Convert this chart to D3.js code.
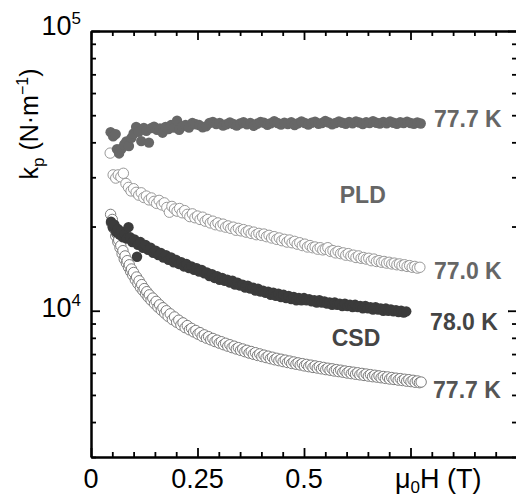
<!DOCTYPE html>
<html>
<head>
<meta charset="utf-8">
<script src="https://cdn.jsdelivr.net/npm/d3@7"></script>
<style>
  body { margin: 0; background: #fff; }
  svg text { font-family: "Liberation Sans", Arial, Helvetica, sans-serif; }
</style>
</head>
<body>
<svg id="chart"></svg>
<script>
// field (T), k_p (N/m)
const pld777 = [[0.046, 43500], [0.052, 42000], [0.058, 42800], [0.061, 37800], [0.066, 36500], [0.072, 38000], [0.078, 39300], [0.083, 40300], [0.089, 38800], [0.095, 41500], [0.100, 43000], [0.106, 45400], [0.112, 43600], [0.118, 40400], [0.124, 45000], [0.130, 44000], [0.136, 39900], [0.142, 45000], [0.148, 45500], [0.155, 44300], [0.162, 44800], [0.168, 43300], [0.175, 45400], [0.182, 44600], [0.188, 46100], [0.195, 45200], [0.202, 47800], [0.207, 44300], [0.214, 45600], [0.222, 46100], [0.230, 45200], [0.238, 46900], [0.246, 46400], [0.254, 46100], [0.262, 45300], [0.270, 45600], [0.278, 46900], [0.286, 47300], [0.294, 46500], [0.302, 46900], [0.310, 45900], [0.318, 46400], [0.326, 47100], [0.334, 46500], [0.342, 45900], [0.350, 46700], [0.358, 47200], [0.366, 46400], [0.374, 46900], [0.382, 45800], [0.390, 46600], [0.398, 47300], [0.406, 47000], [0.414, 46200], [0.422, 46800], [0.430, 47600], [0.438, 46900], [0.446, 46300], [0.454, 47000], [0.462, 46500], [0.470, 47200], [0.478, 46100], [0.486, 46800], [0.494, 47500], [0.502, 46900], [0.510, 46300], [0.518, 47000], [0.526, 47400], [0.534, 46600], [0.542, 46900], [0.550, 47700], [0.558, 47100], [0.566, 46400], [0.574, 46900], [0.582, 47500], [0.590, 47000], [0.598, 46600], [0.606, 47300], [0.614, 46800], [0.622, 47500], [0.630, 47100], [0.638, 46500], [0.646, 47200], [0.654, 46900], [0.662, 47600], [0.670, 47000], [0.678, 46700], [0.686, 47300], [0.694, 46800], [0.702, 47500], [0.710, 47000], [0.718, 46600], [0.726, 47200], [0.734, 46900], [0.742, 47400], [0.750, 46900], [0.758, 46600], [0.766, 47100], [0.774, 46700]];

const pld770 = [[0.045, 36600], [0.052, 30600], [0.058, 29800], [0.064, 30600], [0.070, 30100], [0.076, 31000], [0.082, 28500], [0.088, 27600], [0.094, 26800], [0.100, 27300], [0.106, 26500], [0.112, 25900], [0.118, 26400], [0.124, 25400], [0.130, 25700], [0.136, 24900], [0.142, 25300], [0.148, 24600], [0.154, 24200], [0.160, 24800], [0.166, 23900], [0.172, 24300], [0.178, 23400], [0.184, 22500], [0.190, 23600], [0.196, 23100], [0.202, 22700], [0.208, 23200], [0.214, 22400], [0.220, 22800], [0.226, 22100], [0.232, 21700], [0.238, 22200], [0.244, 21500], [0.250, 21800], [0.256, 21200], [0.262, 21600], [0.268, 20900], [0.274, 21200], [0.280, 20600], [0.286, 20900], [0.292, 20300], [0.298, 20600], [0.304, 20100], [0.310, 20400], [0.316, 19900], [0.322, 20100], [0.328, 19700], [0.334, 19900], [0.340, 19400], [0.346, 19700], [0.352, 19300], [0.358, 19500], [0.364, 19100], [0.370, 19300], [0.376, 18900], [0.382, 19100], [0.388, 18700], [0.394, 18900], [0.400, 18600], [0.406, 18800], [0.412, 18400], [0.418, 18600], [0.424, 18200], [0.430, 18400], [0.436, 18000], [0.442, 18200], [0.448, 17800], [0.454, 18000], [0.460, 17600], [0.466, 17900], [0.472, 17500], [0.478, 17700], [0.484, 17300], [0.490, 17500], [0.496, 17100], [0.502, 17300], [0.508, 16900], [0.514, 17100], [0.520, 16800], [0.526, 16900], [0.532, 16600], [0.538, 16800], [0.544, 16500], [0.550, 16600], [0.556, 16800], [0.562, 16300], [0.568, 16400], [0.574, 16100], [0.580, 16300], [0.586, 16000], [0.592, 16100], [0.598, 15800], [0.604, 16000], [0.610, 15700], [0.616, 15800], [0.622, 15500], [0.628, 15700], [0.634, 15400], [0.640, 15500], [0.646, 15300], [0.652, 15400], [0.658, 15100], [0.664, 15300], [0.670, 15000], [0.676, 15100], [0.682, 14900], [0.688, 15000], [0.694, 14800], [0.700, 14900], [0.706, 14700], [0.712, 14800], [0.718, 14600], [0.724, 14700], [0.730, 14500], [0.736, 14600], [0.742, 14400], [0.748, 14500], [0.754, 14300], [0.760, 14400], [0.766, 14200], [0.772, 14300]];

const csd780 = [[0.047, 20800], [0.051, 19900], [0.055, 20300], [0.059, 19100], [0.063, 19600], [0.067, 18700], [0.071, 19200], [0.075, 18300], [0.079, 18800], [0.084, 18100], [0.088, 19900], [0.092, 18300], [0.097, 17600], [0.102, 18000], [0.108, 15600], [0.110, 17200], [0.116, 17600], [0.122, 16800], [0.128, 17200], [0.134, 16500], [0.140, 16800], [0.146, 16100], [0.152, 16400], [0.158, 15800], [0.164, 16100], [0.170, 15500], [0.176, 15800], [0.182, 15200], [0.188, 15500], [0.194, 14900], [0.200, 15200], [0.206, 14700], [0.212, 14900], [0.218, 14400], [0.224, 14700], [0.230, 14200], [0.236, 14400], [0.242, 14000], [0.248, 14200], [0.254, 13800], [0.260, 14000], [0.266, 13600], [0.272, 13700], [0.278, 13300], [0.284, 13500], [0.290, 13100], [0.296, 13300], [0.302, 12900], [0.308, 13100], [0.314, 12800], [0.320, 12900], [0.326, 12600], [0.332, 12800], [0.338, 12400], [0.344, 12600], [0.350, 12300], [0.356, 12400], [0.362, 12100], [0.368, 12300], [0.374, 12000], [0.380, 12100], [0.386, 11800], [0.392, 12000], [0.398, 11700], [0.404, 11800], [0.410, 11600], [0.416, 11700], [0.422, 11400], [0.428, 11600], [0.434, 11300], [0.440, 11500], [0.446, 11200], [0.452, 11400], [0.458, 11100], [0.464, 11300], [0.470, 11000], [0.476, 11200], [0.482, 10900], [0.488, 11100], [0.494, 10900], [0.500, 11100], [0.506, 10900], [0.512, 11000], [0.518, 10800], [0.524, 10900], [0.530, 10700], [0.536, 10900], [0.542, 10700], [0.548, 10800], [0.554, 10600], [0.560, 10700], [0.566, 10500], [0.572, 10700], [0.578, 10500], [0.584, 10600], [0.590, 10400], [0.596, 10600], [0.602, 10400], [0.608, 10500], [0.614, 10300], [0.620, 10500], [0.626, 10300], [0.632, 10400], [0.638, 10200], [0.644, 10400], [0.650, 10200], [0.656, 10300], [0.662, 10100], [0.668, 10300], [0.674, 10100], [0.680, 10200], [0.686, 10000], [0.692, 10200], [0.698, 10000], [0.704, 10100], [0.710, 9950], [0.716, 10050], [0.722, 9900], [0.728, 10000], [0.734, 9850], [0.740, 9950]];

const csd777 = [[0.046, 22100], [0.048, 20600], [0.050, 21200], [0.053, 19700], [0.055, 19900], [0.058, 18500], [0.060, 18900], [0.063, 17600], [0.065, 17900], [0.068, 16800], [0.070, 17100], [0.073, 16000], [0.075, 16400], [0.078, 15300], [0.080, 15700], [0.083, 14800], [0.085, 15100], [0.088, 14300], [0.090, 14600], [0.093, 13800], [0.095, 14100], [0.098, 13400], [0.100, 13700], [0.104, 12900], [0.107, 13200], [0.110, 12500], [0.113, 12800], [0.116, 12100], [0.119, 12400], [0.122, 11800], [0.125, 12000], [0.128, 11500], [0.131, 11700], [0.134, 11200], [0.137, 11400], [0.141, 10900], [0.145, 11100], [0.149, 10600], [0.153, 10800], [0.157, 10300], [0.161, 10500], [0.165, 10050], [0.169, 10250], [0.173, 9800], [0.177, 10000], [0.181, 9550], [0.186, 9750], [0.191, 9300], [0.196, 9500], [0.201, 9100], [0.206, 9250], [0.211, 8900], [0.216, 9050], [0.221, 8700], [0.226, 8850], [0.231, 8550], [0.236, 8650], [0.241, 8400], [0.246, 8500], [0.251, 8250], [0.256, 8350], [0.261, 8100], [0.266, 8200], [0.271, 7980], [0.276, 8080], [0.281, 7870], [0.286, 7960], [0.291, 7760], [0.296, 7850], [0.301, 7660], [0.306, 7750], [0.311, 7560], [0.316, 7650], [0.321, 7470], [0.326, 7560], [0.331, 7380], [0.336, 7470], [0.341, 7300], [0.346, 7380], [0.351, 7220], [0.356, 7300], [0.361, 7140], [0.366, 7220], [0.371, 7060], [0.376, 7150], [0.381, 6990], [0.386, 7080], [0.391, 6920], [0.396, 7010], [0.401, 6860], [0.406, 6940], [0.411, 6800], [0.416, 6880], [0.421, 6740], [0.426, 6820], [0.431, 6680], [0.436, 6760], [0.441, 6630], [0.446, 6710], [0.451, 6580], [0.456, 6660], [0.461, 6530], [0.466, 6610], [0.471, 6480], [0.476, 6560], [0.481, 6440], [0.486, 6510], [0.491, 6400], [0.496, 6470], [0.501, 6350], [0.506, 6430], [0.511, 6310], [0.516, 6390], [0.521, 6270], [0.526, 6350], [0.531, 6240], [0.536, 6310], [0.541, 6200], [0.546, 6270], [0.551, 6160], [0.556, 6230], [0.561, 6130], [0.566, 6200], [0.571, 6090], [0.576, 6160], [0.581, 6060], [0.586, 6130], [0.591, 6030], [0.596, 6090], [0.601, 5990], [0.606, 6060], [0.611, 5960], [0.616, 6030], [0.621, 5930], [0.626, 6000], [0.631, 5900], [0.636, 5970], [0.641, 5870], [0.646, 5940], [0.651, 5840], [0.656, 5910], [0.661, 5810], [0.666, 5880], [0.671, 5790], [0.676, 5850], [0.681, 5760], [0.686, 5820], [0.691, 5730], [0.696, 5800], [0.701, 5700], [0.706, 5770], [0.711, 5680], [0.716, 5740], [0.721, 5650], [0.726, 5720], [0.731, 5630], [0.736, 5690], [0.741, 5600], [0.746, 5670], [0.751, 5580], [0.756, 5640], [0.761, 5550], [0.766, 5610], [0.771, 5530], [0.775, 5560]];

const xMajorTicks = [0, 0.25, 0.5, 0.75, 1];
const xMinorTicks = [0.05, 0.1, 0.15, 0.2, 0.3, 0.35, 0.4, 0.45, 0.55, 0.6, 0.65, 0.7, 0.8, 0.85, 0.9, 0.95];
const xTickLabels = ['0', '0.25', '0.5'];
const yMajorTicks = [1e4, 1e5];
const yMinorTicks = [3000, 4000, 5000, 6000, 7000, 8000, 9000, 20000, 30000, 40000, 50000, 60000, 70000, 80000, 90000];
const yTickExponents = ['4', '5'];

// series labels, anchored in data units (x, k_p at baseline)
const seriesLabels = [
    { text: '77.7 K', x: 0.805, y: 45400, anchor: 'start', color: '#666' },
    { text: 'PLD', x: 0.638, y: 24300, anchor: 'middle', color: '#666' },
    { text: '77.0 K', x: 0.805, y: 13000, anchor: 'start', color: '#666' },
    { text: '78.0 K', x: 0.796, y: 8550, anchor: 'start', color: '#444' },
    { text: 'CSD', x: 0.622, y: 7500, anchor: 'middle', color: '#444' },
    { text: '77.7 K', x: 0.803, y: 4890, anchor: 'start', color: '#555' }
];

const width = 516, height = 497;
const margin = { top: 31, left: 91 };
const plotW = 426, plotH = 426;

const svg = d3.select('#chart')
    .attr('width', width)
    .attr('height', height);

const chart = svg.append('g')
    .attr('transform', `translate(${margin.left},${margin.top})`);

const xScale = d3.scaleLinear().domain([0, 1]).range([0, plotW]);
const yScale = d3.scaleLog().domain([3000, 100000]).range([plotH, 0]);

// series, back to front
const series = [
    { data: csd777, fill: '#fff', stroke: '#7e7e7e', sw: 1 },
    { data: pld770, fill: '#fff', stroke: '#999', sw: 1 },
    { data: csd780, fill: '#3b3b3b', stroke: 'none', sw: 0 },
    { data: pld777, fill: '#676767', stroke: 'none', sw: 0 }
];

series.forEach(s => {
    chart.append('g')
        .selectAll('circle')
        .data(s.data)
        .join('circle')
        .attr('cx', d => xScale(d[0]))
        .attr('cy', d => yScale(d[1]))
        .attr('r', 5.2)
        .attr('fill', s.fill)
        .attr('stroke', s.stroke)
        .attr('stroke-width', s.sw);
});

// axes: ticks point inward on all four sides
function styleAxis(g) {
    g.selectAll('.tick line').attr('stroke', '#000').attr('stroke-width', 1.8);
    g.select('.domain').attr('stroke', '#000').attr('stroke-width', 2);
    g.selectAll('text').remove();
}

const axes = [
    { make: d3.axisBottom, scale: xScale, t: `translate(0,${plotH})`, major: xMajorTicks, minor: xMinorTicks },
    { make: d3.axisTop, scale: xScale, t: 'translate(0,0)', major: xMajorTicks, minor: xMinorTicks },
    { make: d3.axisLeft, scale: yScale, t: 'translate(0,0)', major: yMajorTicks, minor: yMinorTicks },
    { make: d3.axisRight, scale: yScale, t: `translate(${plotW},0)`, major: yMajorTicks, minor: yMinorTicks }
];

axes.forEach(a => {
    chart.append('g')
        .attr('transform', a.t)
        .call(a.make(a.scale).tickValues(a.minor).tickSizeInner(-5).tickSizeOuter(0).tickFormat(''))
        .call(styleAxis);
    chart.append('g')
        .attr('transform', a.t)
        .call(a.make(a.scale).tickValues(a.major).tickSizeInner(-9).tickSizeOuter(0).tickFormat(''))
        .call(styleAxis);
});

// x tick labels
chart.append('g')
    .selectAll('text')
    .data(xTickLabels)
    .join('text')
    .attr('x', (d, i) => xScale(xMajorTicks[i]))
    .attr('y', plotH + 31)
    .attr('text-anchor', 'middle')
    .attr('font-size', 27)
    .text(d => d);

// x axis title
const xTitle = chart.append('text')
    .attr('x', xScale(0.815))
    .attr('y', plotH + 31)
    .attr('text-anchor', 'middle')
    .attr('font-size', 27);
xTitle.append('tspan').text('μ');
xTitle.append('tspan').attr('font-size', 17).attr('dy', 5).text('0');
xTitle.append('tspan').attr('dy', -5).text('H (T)');

// y tick labels 10^n
yMajorTicks.forEach((v, i) => {
    const t = chart.append('text')
        .attr('x', -10)
        .attr('y', yScale(v) + (i === 1 ? 4 : 6))
        .attr('text-anchor', 'end')
        .attr('font-size', 27);
    t.append('tspan').text('10');
    t.append('tspan').attr('font-size', 17).attr('dy', -11).text(yTickExponents[i]);
});

// y axis title
const yTitle = svg.append('text')
    .attr('transform', 'translate(38,124) rotate(-90)')
    .attr('text-anchor', 'middle')
    .attr('font-size', 25);
yTitle.append('tspan').text('k');
yTitle.append('tspan').attr('font-size', 17).attr('dy', 6).text('p');
yTitle.append('tspan').attr('dy', -6).text(' (N·m');
yTitle.append('tspan').attr('font-size', 16).attr('dy', -10).text('−1');
yTitle.append('tspan').attr('dy', 10).text(')');

// series labels
chart.append('g')
    .selectAll('text')
    .data(seriesLabels)
    .join('text')
    .attr('x', d => xScale(d.x))
    .attr('y', d => yScale(d.y))
    .attr('text-anchor', d => d.anchor)
    .attr('font-size', 23)
    .attr('font-weight', 'bold')
    .attr('fill', d => d.color)
    .text(d => d.text);
</script>
</body>
</html>
